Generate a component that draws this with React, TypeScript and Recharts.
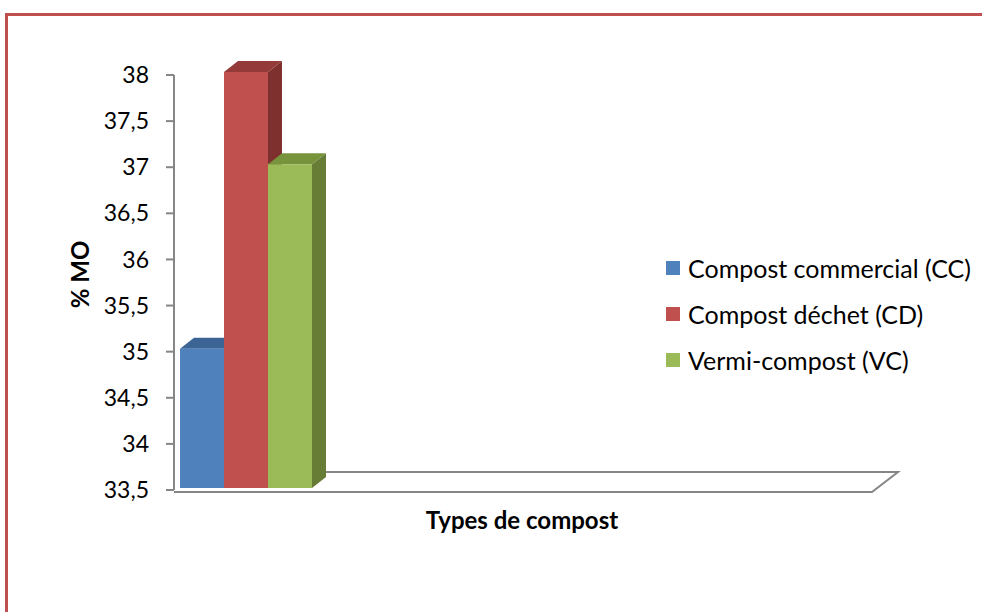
import { BarChart, Bar, XAxis, YAxis, Legend, ReferenceLine } from 'recharts'

const categories = ['Types de compost']
const seriesNames = ['Compost commercial (CC)', 'Compost déchet (CD)', 'Vermi-compost (VC)']
const ccValues = [35]
const cdValues = [38]
const vcValues = [37]
const yTicks = [33.5, 34, 34.5, 35, 35.5, 36, 36.5, 37, 37.5, 38]

const data = categories.map((name, i) => ({
  name,
  cc: ccValues[i],
  cd: cdValues[i],
  vc: vcValues[i]
}))

const FONT = 'Lato, "Open Sans", sans-serif'
const AXIS_GREY = '#868686'

// depth of the 3D columns
const DX = 14
const DY = 11

const make3DBar = (front: string, top: string, side: string) => (props: any) => {
  const { x, y, width, height } = props
  if (width == null || height == null) return null
  const y0 = y - 3
  const h = height + 1
  const x1 = x + width
  const yb = y0 + h
  return (
    <g>
      <path d={`M${x1},${y0} L${x1 + DX},${y0 - DY} L${x1 + DX},${yb - DY} L${x1},${yb} Z`} fill={side} />
      <path d={`M${x},${y0} L${x + DX},${y0 - DY} L${x1 + DX},${y0 - DY} L${x1},${y0} Z`} fill={top} />
      <rect x={x} y={y0} width={width} height={h} fill={front} />
    </g>
  )
}

// floor of the 3D plot, drawn along the 33.5 baseline
const Floor = (props: any) => {
  const { x1, x2, y1 } = props
  const left = Math.min(x1, x2)
  const right = Math.max(x1, x2)
  const yf = y1 + 2
  return (
    <path
      d={`M${left},${yf} L${right + 2},${yf} L${right + 28},${yf - 20} L${left + 16},${yf - 20}`}
      fill="none"
      stroke={AXIS_GREY}
      strokeWidth={2}
    />
  )
}

const renderLegend = (props: any) => (
  <div style={{ fontFamily: FONT, fontSize: 25, color: '#000' }}>
    {(props.payload || []).map((p: any) => (
      <div key={p.value} style={{ display: 'flex', alignItems: 'center', height: 46 }}>
        <span style={{ width: 14, height: 14, background: p.color, marginRight: 8, display: 'inline-block' }} />
        <span>{p.value}</span>
      </div>
    ))}
  </div>
)

export default function App() {
  return (
    <div style={{ position: 'absolute', left: 0, top: 0, width: 982, height: 612, overflow: 'hidden', background: '#fff' }}>
      <div
        style={{
          position: 'absolute',
          left: 5,
          top: 13,
          width: 1200,
          height: 800,
          border: '3px solid #C0504D'
        }}
      />
      <div style={{ position: 'absolute', left: 0, top: 0 }}>
        <BarChart
          width={982}
          height={612}
          data={data}
          margin={{ top: 75, right: 112, left: 0, bottom: 80 }}
          barGap={0}
          barCategoryGap={0}
        >
          <XAxis
            dataKey="name"
            tick={false}
            axisLine={false}
            tickLine={false}
            height={42}
            padding={{ left: 2, right: 554 }}
            label={{
              value: 'Types de compost',
              position: 'insideTop',
              offset: 22,
              style: { fontFamily: FONT, fontSize: 24, fontWeight: 700, fill: '#000' }
            }}
          />
          <YAxis
            width={174}
            domain={[33.5, 38]}
            ticks={yTicks}
            interval={0}
            tickFormatter={(v: number) => String(v).replace('.', ',')}
            tick={{ fontFamily: FONT, fontSize: 23, fill: '#000' }}
            tickSize={8}
            tickMargin={17}
            axisLine={{ stroke: AXIS_GREY, strokeWidth: 2 }}
            tickLine={{ stroke: AXIS_GREY, strokeWidth: 2 }}
            label={{
              value: '% MO',
              angle: -90,
              position: 'center',
              dx: -7,
              dy: -8,
              style: { fontFamily: FONT, fontSize: 24, fontWeight: 700, fill: '#000' }
            }}
          />
          <ReferenceLine y={33.5} shape={Floor} zIndex={0} />
          <Legend
            layout="vertical"
            align="center"
            verticalAlign="middle"
            content={renderLegend}
            wrapperStyle={{ left: 666, top: 245, width: 316 }}
          />
          <Bar
            dataKey="cc"
            name={seriesNames[0]}
            fill="#4F81BD"
            barSize={44}
            isAnimationActive={false}
            shape={make3DBar('#4F81BD', '#3C6494', '#385D8A')}
          />
          <Bar
            dataKey="cd"
            name={seriesNames[1]}
            fill="#C0504D"
            barSize={44}
            isAnimationActive={false}
            shape={make3DBar('#C0504D', '#943A38', '#7E302E')}
          />
          <Bar
            dataKey="vc"
            name={seriesNames[2]}
            fill="#9BBB59"
            barSize={44}
            isAnimationActive={false}
            shape={make3DBar('#9BBB59', '#77933C', '#677C35')}
          />
        </BarChart>
      </div>
    </div>
  )
}
